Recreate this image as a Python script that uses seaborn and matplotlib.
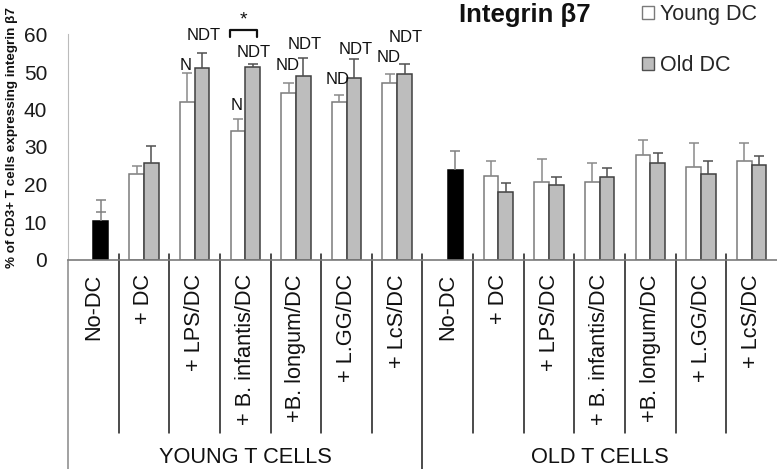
import matplotlib
matplotlib.use('Agg')
import matplotlib.pyplot as plt
import matplotlib.transforms as mtransforms
from matplotlib.patches import Patch
import seaborn as sns
import pandas as pd

conditions = ['No-DC', '+ DC', '+ LPS/DC', '+ B. infantis/DC', '+B. longum/DC', '+ L.GG/DC', '+ LcS/DC']
groups = ['YOUNG T CELLS', 'OLD T CELLS']
series = ['Young DC', 'Old DC']

# white bars (young DC); No-DC has no DC bar
young_dc_young_t = [None, 22.9, 41.9, 34.4, 44.5, 42.0, 47.0]
young_dc_young_t_err = [None, 2.0, 7.7, 3.1, 2.6, 1.8, 2.5]
young_dc_old_t = [None, 22.4, 20.7, 20.7, 28.0, 24.7, 26.3]
young_dc_old_t_err = [None, 3.9, 6.2, 5.1, 4.0, 6.3, 4.7]
# grey bars (old DC); first value is the black No-DC bar
old_dc_young_t = [10.3, 25.8, 51.0, 51.2, 49.0, 48.4, 49.4]
old_dc_young_t_err = [5.7, 4.6, 4.0, 1.0, 4.8, 5.1, 2.6]
old_dc_old_t = [23.9, 18.1, 19.8, 22.0, 25.7, 22.9, 25.3]
old_dc_old_t_err = [5.0, 2.3, 2.2, 2.3, 2.6, 3.4, 2.2]
nodc_inner_cap = [2.5, None]

# (condition index in young T cells, series index, label)
annotations = [(2, 0, 'N'), (2, 1, 'NDT'), (3, 0, 'N'), (3, 1, 'NDT'),
               (4, 0, 'ND'), (4, 1, 'NDT'), (5, 0, 'ND'), (5, 1, 'NDT'),
               (6, 0, 'ND'), (6, 1, 'NDT')]
annot_pad = [1, 10, 6, 4, 10, 6, 8, 2, 9, 19]  # px above error cap

young_vals = [young_dc_young_t, young_dc_old_t]
young_errs = [young_dc_young_t_err, young_dc_old_t_err]
old_vals = [old_dc_young_t, old_dc_old_t]
old_errs = [old_dc_young_t_err, old_dc_old_t_err]

rows = []
err = {}
slots = []
for g in range(2):
    for i, c in enumerate(conditions):
        slot = f'{g}_{i}'
        slots.append(slot)
        for h, (vals, errs) in enumerate([(young_vals[g], young_errs[g]), (old_vals[g], old_errs[g])]):
            if vals[i] is not None:
                rows.append({'slot': slot, 'dc': series[h], 'value': vals[i]})
                err[(g * 7 + i, h)] = errs[i]
df = pd.DataFrame(rows)

sns.set_style('white')
plt.rcParams['font.family'] = ['Liberation Sans', 'DejaVu Sans']

fig = plt.figure(figsize=(7.77, 4.69), dpi=100)
ax = fig.add_axes([68 / 777, 1 - 259.5 / 469, 1 - 68 / 777, 225 / 469])

sns.barplot(data=df, x='slot', y='value', hue='dc', order=slots, hue_order=series,
            palette={'Young DC': 'white', 'Old DC': '#bdbdbd'}, width=0.58,
            linewidth=1.1, edgecolor='#404040', legend=False, ax=ax)

for p in ax.patches:
    cx = p.get_x() + p.get_width() / 2
    cat = int(round(cx))
    h = 0 if cx < cat else 1
    top = p.get_height()
    if h == 0:
        p.set_edgecolor('#7a7a7a')
        ecol = '#8a8a8a'
    else:
        ecol = '#505050'
    if cat % 7 == 0:
        p.set_facecolor('black')
        p.set_edgecolor('black')
        ecol = '#808080'
        inner = nodc_inner_cap[cat // 7]
        if inner is not None:
            ax.hlines(top + inner, cx - 0.1, cx + 0.1, color=ecol, lw=1.1)
    e = err[(cat, h)]
    ax.vlines(cx, top, top + e, color=ecol, lw=1.1)
    ax.hlines(top + e, cx - 0.1, cx + 0.1, color=ecol, lw=1.1)

bars = {}
for p in ax.patches:
    cx = p.get_x() + p.get_width() / 2
    cat = int(round(cx))
    bars[(cat, 0 if cx < cat else 1)] = (cx, p.get_height())

for (ci, h, lab), pad in zip(annotations, annot_pad):
    cx, top = bars[(ci, h)]
    ax.annotate(lab, (cx, top + err[(ci, h)]), xytext=(-1 if h == 0 else 1, pad * 0.72),
                textcoords='offset points', ha='center', va='bottom', fontsize=12,
                color='#111111', annotation_clip=False)

# significance bracket between the two B. infantis bars
ax.plot([2.70, 2.70, 3.23, 3.23], [59.4, 61.2, 61.2, 59.4], color='#111111', lw=1.6, clip_on=False)
ax.text(2.97, 61.6, '*', ha='center', va='bottom', fontsize=14, color='#111111')

ax.set_xlim(-0.5, 13.5)
ax.set_ylim(0, 60)
ax.set_yticks(range(0, 61, 10))
ax.tick_params(axis='y', direction='in', length=6, width=1, color='#aaaaaa',
               labelsize=15, pad=15, labelcolor='#1a1a1a')
ax.set_xticks([])
ax.set_xlabel('')
ax.set_ylabel('')
for s in ['top', 'right']:
    ax.spines[s].set_visible(False)
ax.spines['left'].set_color('#bbbbbb')
ax.spines['bottom'].set_color('#7a7a7a')
ax.spines['bottom'].set_linewidth(1.2)

trans = mtransforms.blended_transform_factory(ax.transData, ax.transAxes)
for b in range(0, 14):
    xb = b - 0.5
    low = -0.935 if b in (0, 7) else -0.772
    col = '#888888' if b == 0 else '#1a1a1a'
    ax.plot([xb, xb], [0.024 if b else 0, low], transform=trans, color=col, lw=1.1, clip_on=False)

for k in range(14):
    ax.text(k, -0.066, conditions[k % 7], transform=trans, rotation=90, ha='center', va='top',
            fontsize=15.7, color='#111111')
for g, name in enumerate(groups):
    ax.text(g * 7 + 3, -0.882, name, transform=trans, ha='center', va='center',
            fontsize=15.7, color='#111111')

fig.text(525 / 777, 1 - 15 / 469, 'Integrin β7', ha='center', va='center',
         fontsize=18.5, fontweight='bold', color='#111111')
fig.text(12 / 777, 1 - 138 / 469, '% of CD3+ T cells expressing integrin β7', rotation=90,
         ha='center', va='center', fontsize=9.7, fontweight='bold', color='#111111')

handles = [Patch(facecolor='white', edgecolor='#7a7a7a', lw=1),
           Patch(facecolor='#bdbdbd', edgecolor='#505050', lw=1)]
fig.legend(handles, series, loc='upper left', bbox_to_anchor=(642 / 777, 1 - 4 / 469),
           frameon=False, fontsize=15.5, handlelength=0.55, handleheight=0.55,
           handletextpad=0.3, labelspacing=1.4, borderpad=0, borderaxespad=0)

fig.savefig('out.png', dpi=100)
